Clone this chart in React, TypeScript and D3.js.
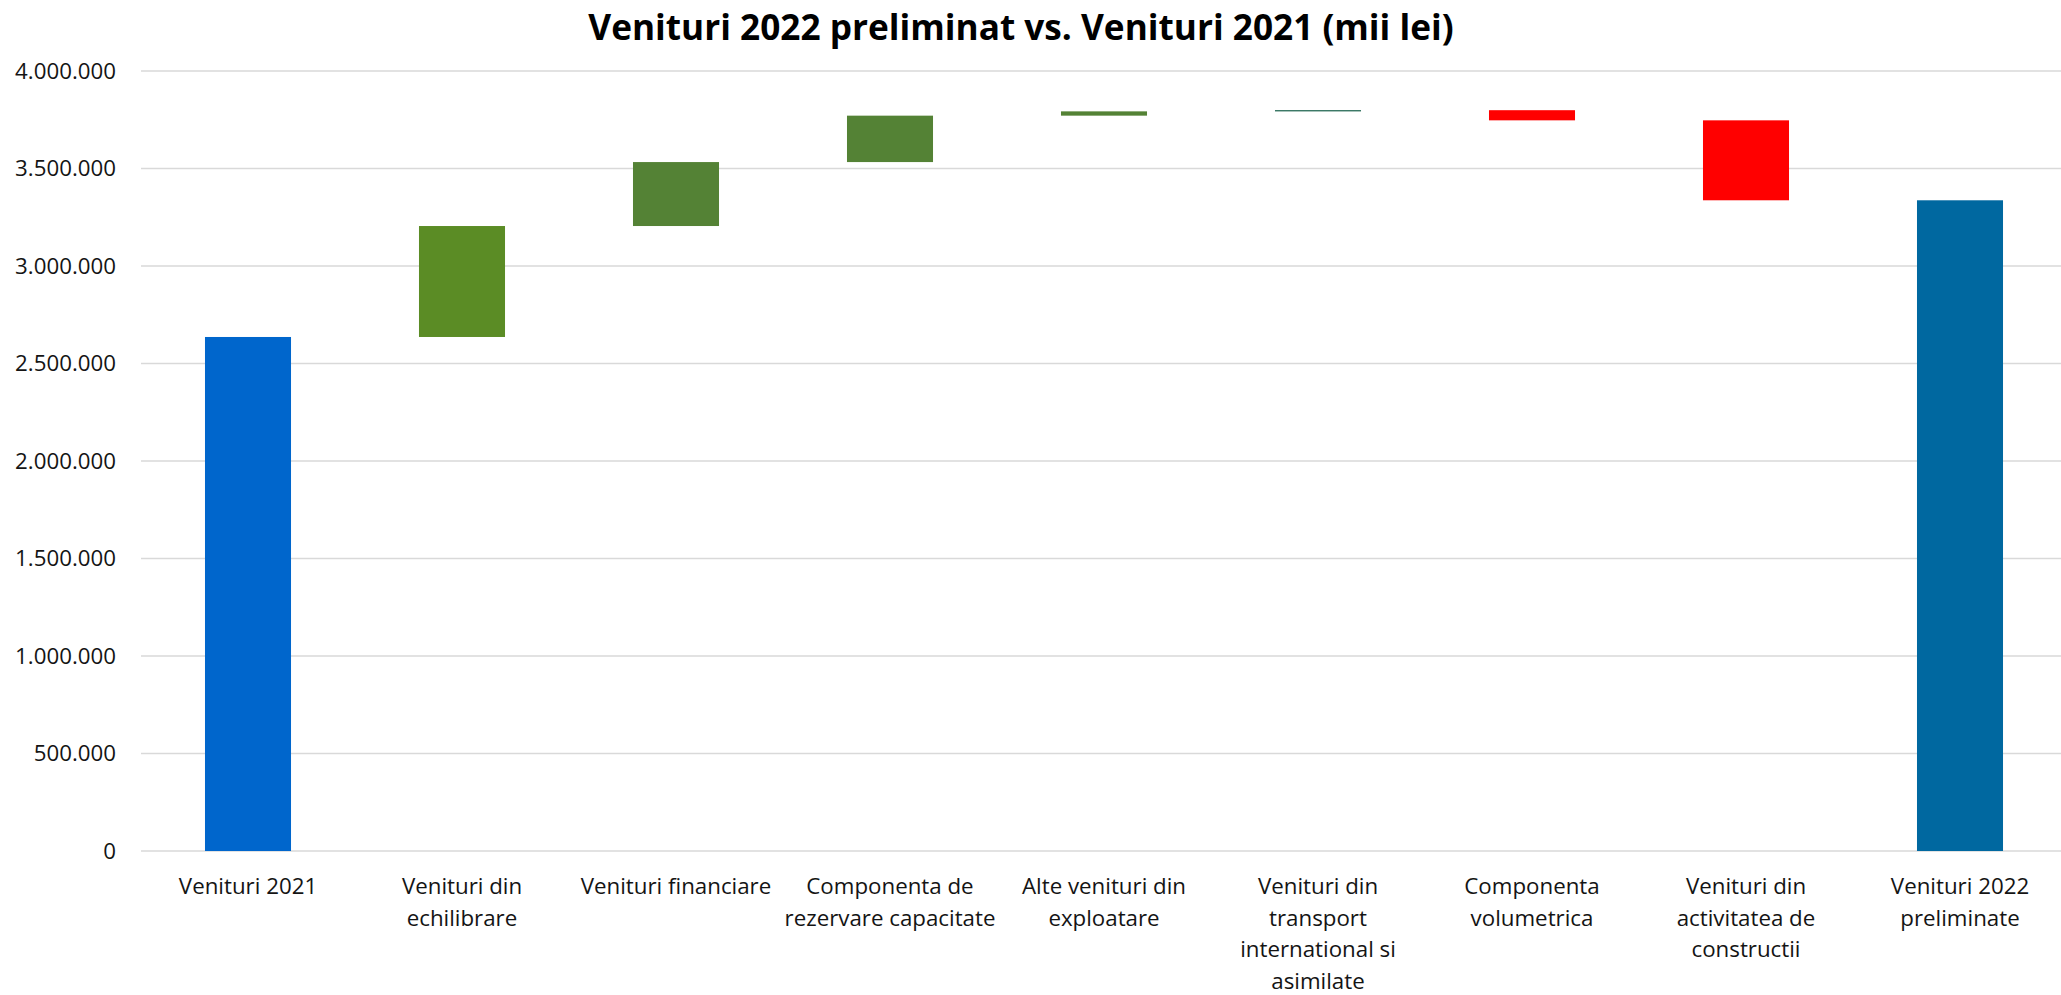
import React from "react";
import * as d3 from "d3";

const categories = [
  "Venituri 2021",
  "Venituri din echilibrare",
  "Venituri financiare",
  "Componenta de rezervare capacitate",
  "Alte venituri din exploatare",
  "Venituri din transport international si asimilate",
  "Componenta volumetrica",
  "Venituri din activitatea de constructii",
  "Venituri 2022 preliminate",
];
// first and last are totals, others are changes
const values = [2636000, 569000, 328000, 238000, 22000, 6000, -52000, -410000, 3337000];
const isTotal = [true, false, false, false, false, false, false, false, true];
const barColors = [
  "#0066CC",
  "#5B8C25",
  "#548235",
  "#548235",
  "#548235",
  "#0E5A44",
  "#FF0000",
  "#FF0000",
  "#0068A0",
];
const yTicks = [0, 500000, 1000000, 1500000, 2000000, 2500000, 3000000, 3500000, 4000000];
const title = "Venituri 2022 preliminat vs. Venituri 2021 (mii lei)";

const W = 2061;
const H = 995;
const FONT = "'Open Sans', 'Noto Sans', sans-serif";
const LABEL_SIZE = 22.3;

const locale = d3.formatLocale({ decimal: ",", thousands: ".", grouping: [3], currency: ["", ""] });
const fmt = locale.format(",d");

function wrap(text: string, maxW: number): string[] {
  const canvas = document.createElement("canvas");
  const ctx = canvas.getContext("2d")!;
  ctx.font = `${LABEL_SIZE}px 'Open Sans'`;
  const words = text.split(" ");
  const lines: string[] = [];
  let cur = "";
  for (const w of words) {
    const test = cur ? cur + " " + w : w;
    if (cur && ctx.measureText(test).width > maxW) {
      lines.push(cur);
      cur = w;
    } else cur = test;
  }
  if (cur) lines.push(cur);
  return lines;
}

export default function App() {
  const x = d3
    .scaleBand<string>()
    .domain(categories)
    .range([141, 2067])
    .paddingInner(0.598)
    .paddingOuter(0.299);
  const y = d3.scaleLinear().domain([0, 4000000]).range([851, 71]);

  let running = 0;
  const bars = values.map((v, i) => {
    let lo: number, hi: number;
    if (isTotal[i]) {
      lo = 0;
      hi = v;
      running = v;
    } else {
      const start = running;
      running += v;
      lo = Math.min(start, running);
      hi = Math.max(start, running);
    }
    return { cat: categories[i], lo, hi, color: barColors[i] };
  });

  return (
    <svg
      width={W}
      height={H}
      style={{ position: "absolute", left: 0, top: 0, background: "#fff" }}
      fontFamily={FONT}
    >
      <rect x={0} y={0} width={W} height={H} fill="#fff" />
      <text
        x={1021}
        y={26}
        textAnchor="middle"
        dominantBaseline="central"
        fontSize={35.2}
        fontWeight="bold"
        fill="#000"
      >
        {title}
      </text>
      {yTicks.map((t) => (
        <g key={t}>
          <line x1={141} x2={2067} y1={y(t)} y2={y(t)} stroke="#D9D9D9" strokeWidth={1.5} />
          <text x={116} y={y(t)} dy="0.35em" textAnchor="end" fontSize={LABEL_SIZE} fill="#141414">
            {fmt(t)}
          </text>
        </g>
      ))}
      {bars.map((b) => (
        <rect
          key={b.cat}
          x={x(b.cat)!}
          width={x.bandwidth()}
          y={y(b.hi)}
          height={Math.max(0.5, y(b.lo) - y(b.hi))}
          fill={b.color}
        />
      ))}
      {categories.map((c) => {
        const lines = wrap(c, 213);
        const cx = x(c)! + x.bandwidth() / 2;
        return (
          <text key={c} x={cx} y={894} textAnchor="middle" fontSize={LABEL_SIZE} fill="#141414">
            {lines.map((l, i) => (
              <tspan key={i} x={cx} dy={i === 0 ? 0 : 31.5}>
                {l}
              </tspan>
            ))}
          </text>
        );
      })}
    </svg>
  );
}
